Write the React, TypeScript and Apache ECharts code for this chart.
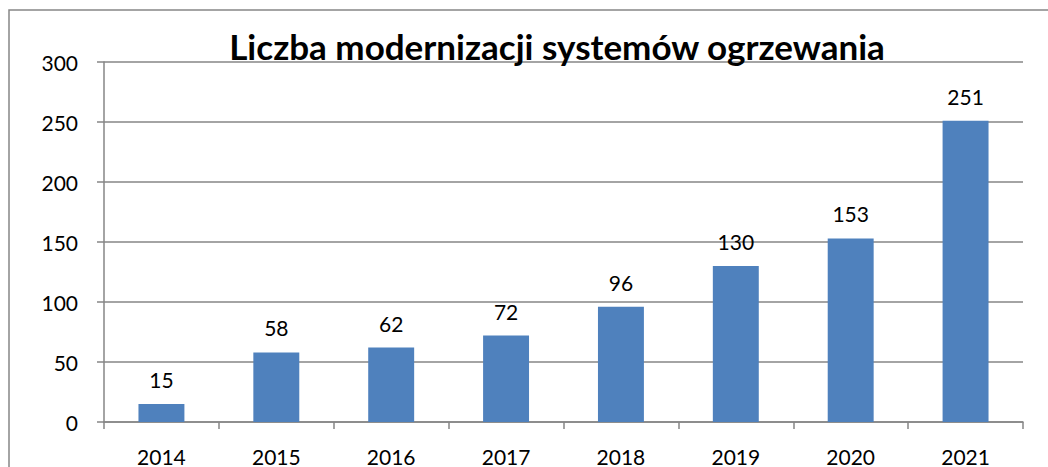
import React, { useEffect, useRef } from "react";
import * as echarts from "echarts";

const titleText = "Liczba modernizacji systemów ogrzewania";
const years = ["2014", "2015", "2016", "2017", "2018", "2019", "2020", "2021"];
const counts = [15, 58, 62, 72, 96, 130, 153, 251];
const yTicks = { min: 0, max: 300, interval: 50 };

const FONT = "Lato";

export default function App() {
  const ref = useRef<HTMLDivElement>(null);
  useEffect(() => {
    document.body.style.margin = "0";
    const chart = echarts.init(ref.current!, null, { renderer: "svg" });
    chart.setOption({
      animation: false,
      backgroundColor: "#ffffff",
      title: {
        text: titleText,
        left: 552,
        textAlign: "center",
        top: 23,
        textStyle: { fontFamily: FONT, fontWeight: "bold", fontSize: 35, color: "#000" },
      },
      graphic: [
        {
          type: "rect",
          shape: { x: 9, y: 10, width: 1100, height: 500 },
          style: { fill: "none", stroke: "#868686", lineWidth: 1.5 },
          silent: true,
        },
      ],
      grid: { left: 104, right: 25, top: 62, bottom: 43, containLabel: false },
      xAxis: {
        type: "category",
        data: years,
        axisLine: { lineStyle: { color: "#868686", width: 1.5 } },
        axisTick: { show: true, length: 7, lineStyle: { color: "#868686", width: 1.5 } },
        axisLabel: { fontFamily: FONT, fontSize: 21, color: "#000", margin: 24 },
      },
      yAxis: {
        type: "value",
        min: yTicks.min,
        max: yTicks.max,
        interval: yTicks.interval,
        axisLine: { show: true, lineStyle: { color: "#868686", width: 1.5 } },
        axisTick: { show: true, length: 7, lineStyle: { color: "#868686", width: 1.5 } },
        splitLine: { lineStyle: { color: "#868686", width: 1.5 } },
        axisLabel: { fontFamily: FONT, fontSize: 21, color: "#000", margin: 26 },
      },
      series: [
        {
          type: "bar",
          data: counts,
          barWidth: "40%",
          itemStyle: { color: "#4F81BD" },
          label: {
            show: true,
            position: "top",
            distance: 14,
            fontFamily: FONT,
            fontSize: 21,
            color: "#000",
          },
        },
      ],
    });
    return () => chart.dispose();
  }, []);
  return (
    <div
      ref={ref}
      style={{ position: "absolute", left: 0, top: 0, width: 1048, height: 467 }}
    />
  );
}
